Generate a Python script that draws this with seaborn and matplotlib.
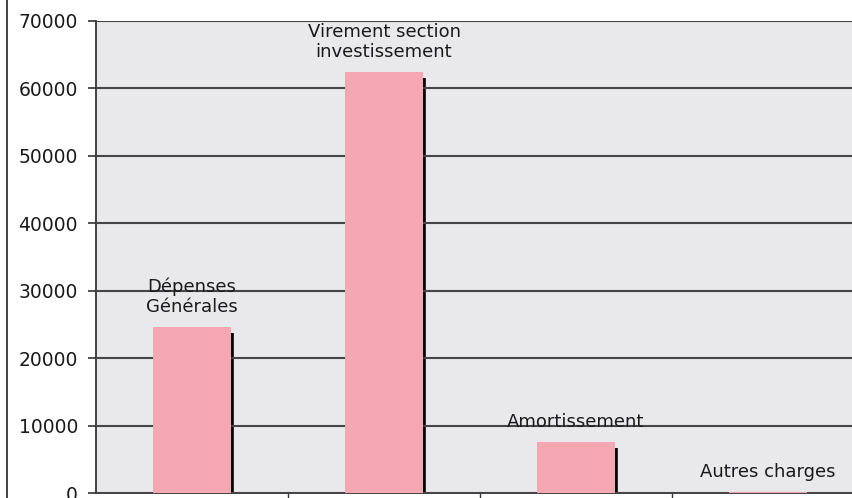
import matplotlib
matplotlib.use("Agg")
import matplotlib.pyplot as plt
import seaborn as sns
import pandas as pd
from matplotlib.lines import Line2D

# Data
categories = ["Dépenses\nGénérales", "Virement section\ninvestissement", "Amortissement", "Autres charges"]
values = [24600, 62400, 7600, 200]
yticks = [0, 10000, 20000, 30000, 40000, 50000, 60000, 70000]

df = pd.DataFrame({"cat": categories, "val": values})

sns.set_style("white")
plt.rcParams["font.family"] = ["DejaVu Sans"]

fig = plt.figure(figsize=(8.53, 4.98), dpi=100)
ax = fig.add_axes([96 / 853, 5 / 498, 768 / 853, 472 / 498])
ax.set_facecolor("#e9e9eb")

sns.barplot(data=df, x="cat", y="val", color="#f5a8b1", saturation=1, width=0.41,
            linewidth=0, edgecolor="none", ax=ax, zorder=3)

# black shadow on the right of each bar
for p in ax.patches:
    x1 = p.get_x() + p.get_width() + 0.004
    h = p.get_height()
    if h > 1000:
        ax.vlines(x1, 0, h - 900, color="black", lw=2.6, zorder=2.5)

# labels above bars
for p, lab in zip(ax.patches, categories):
    ax.annotate(lab, (p.get_x() + p.get_width() / 2, p.get_height()),
                xytext=(0, 8), textcoords="offset points", ha="center", va="bottom",
                fontsize=13, color="#1a1a1a", linespacing=1.15, zorder=5)

ax.set_ylim(0, 70000)
ax.set_yticks(yticks)
ax.set_yticklabels([str(t) for t in yticks], fontsize=13.5, color="#1a1a1a")
ax.yaxis.grid(True, color="#454545", lw=1.5)
ax.set_axisbelow(False)
for line in ax.get_ygridlines():
    line.set_zorder(2)

ax.set_xlim(-0.5, 3.5)
ax.set_xticks([0.5, 1.5, 2.5])
ax.set_xticklabels([])
ax.tick_params(axis="x", bottom=True, direction="out", length=8, width=1, color="#333333")
ax.tick_params(axis="y", left=True, direction="out", length=6, width=1.2, color="#333333", pad=7)
ax.set_xlabel("")
ax.set_ylabel("")

for side in ["top", "right"]:
    ax.spines[side].set_visible(False)
ax.spines["left"].set_color("#333333")
ax.spines["left"].set_linewidth(1.3)
ax.spines["bottom"].set_color("#333333")
ax.spines["bottom"].set_linewidth(1.3)

# outer frame line on the left
fig.add_artist(Line2D([7 / 853, 7 / 853], [0, 1], color="#333333", lw=1.3))

fig.savefig("out.png", dpi=100)
